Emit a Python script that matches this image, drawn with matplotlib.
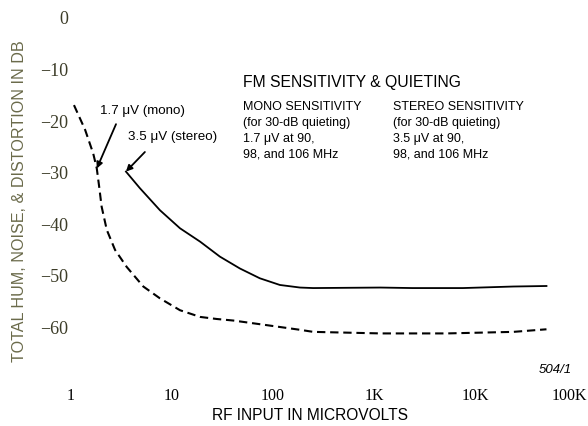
import numpy as np
import matplotlib.pyplot as plt
import matplotlib.transforms as mtransforms

# mono curve (dashed)
mono_x = [1.07, 1.38, 1.66, 1.80, 1.90, 2.01, 2.26, 2.73, 3.56, 5.2, 7.6, 12.0, 19.0,
          27.7, 40.4, 87, 185, 250, 1160, 5300, 24000, 51000]
mono_y = [-16.9, -21.7, -26.3, -29.2, -32.7, -36.6, -41.1, -45.0, -48.3, -52.1, -54.4, -56.7,
          -58.0, -58.4, -58.7, -59.6, -60.5, -60.9, -61.2, -61.2, -60.9, -60.4]

# stereo curve (solid)
stereo_x = [3.5, 4.8, 7.6, 12.0, 19.0, 29.8, 47, 74, 117, 185, 250, 1160, 2400, 7600,
            24000, 51000]
stereo_y = [-29.8, -33.0, -37.3, -40.8, -43.4, -46.3, -48.6, -50.5, -51.8, -52.3, -52.4,
            -52.3, -52.4, -52.4, -52.1, -52.0]

xticks = [1, 10, 100, 1000, 10000, 100000]
xticklabels = ['1', '10', '100', '1K', '10K', '100K']
yticks = [0, -10, -20, -30, -40, -50, -60]
yticklabels = ['0', '\u221210', '\u221220', '\u221230', '\u221240', '\u221250', '\u221260']

sub_mono = ['MONO SENSITIVITY', '(for 30-dB quieting)', '1.7 \u03bcV at 90,', '98, and 106 MHz']
sub_stereo = ['STEREO SENSITIVITY', '(for 30-dB quieting)', '3.5 \u03bcV at 90,', '98, and 106 MHz']

sans = 'Liberation Sans'
serif = 'Liberation Serif'

fig = plt.figure(figsize=(5.88, 4.26), dpi=100)
ax = fig.add_axes([71/588, (426-353)/426, (576-71)/588, 335/426])
ax.set_xscale('log')
ax.set_xlim(1, 1e5)
ax.set_ylim(-65, 0)
for s in ax.spines.values():
    s.set_visible(False)

ax.plot(mono_x, mono_y, color='black', lw=1.5, ls=(0, (4, 2.3)))
ax.plot(stereo_x, stereo_y, color='black', lw=1.3)

ax.set_xticks(xticks)
ax.set_xticklabels(xticklabels, family=serif, fontsize=11.5)
ax.minorticks_off()
ax.set_yticks(yticks)
ax.set_yticklabels(yticklabels, family=serif, fontsize=13, color='#3c3c28')
ax.tick_params(axis='x', length=0, pad=25)
ax.tick_params(axis='y', length=0, pad=2)
# last label sits a bit left of its tick in the original
lab = ax.get_xticklabels()[-1]
lab.set_transform(lab.get_transform() + mtransforms.ScaledTranslation(-7/100, 0, fig.dpi_scale_trans))

ax.set_xlabel('RF INPUT IN MICROVOLTS', family=sans, fontsize=11.2, va='center')
ax.xaxis.set_label_coords((310-71)/505, (353-416)/335)
ax.set_ylabel('TOTAL HUM, NOISE, & DISTORTION IN DB', family=sans, fontsize=11.6,
              color='#6a6a4a', va='center')
ax.yaxis.set_label_coords((20-71)/505, (353-201)/335)

ax.text(1.94, -18.1, '1.7 \u03bcV (mono)', family=sans, fontsize=9.6, ha='left', va='center')
ax.text(3.67, -23.1, '3.5 \u03bcV (stereo)', family=sans, fontsize=9.6, ha='left', va='center')
arrow = dict(arrowstyle='-|>', color='black', lw=1.3, shrinkA=0, shrinkB=0, mutation_scale=9)
ax.annotate('', xy=(1.80, -29.2), xytext=(2.79, -20.6), arrowprops=arrow)
ax.annotate('', xy=(3.5, -29.8), xytext=(5.39, -26.0), arrowprops=arrow)

fig.text(243/588, 1-82.5/426, 'FM SENSITIVITY & QUIETING', family=sans, fontsize=11.3,
         ha='left', va='center')
for i, (a, b) in enumerate(zip(sub_mono, sub_stereo)):
    y = 1 - (107.5 + 15.6*i)/426
    fig.text(243/588, y, a, family=sans, fontsize=9.0, ha='left', va='center')
    fig.text(393/588, y, b, family=sans, fontsize=9.0, ha='left', va='center')
fig.text(572/588, 1-370/426, '504/1', family=sans, fontsize=9.5, style='italic',
         ha='right', va='center')

fig.savefig('out.png', dpi=100)
